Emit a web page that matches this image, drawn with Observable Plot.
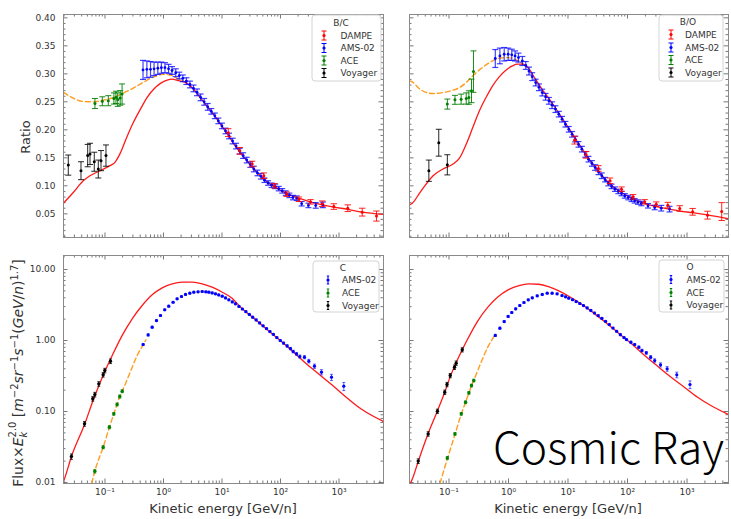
<!DOCTYPE html>
<html><head><meta charset="utf-8">
<script src="https://cdn.jsdelivr.net/npm/d3@7"></script>
<script src="https://cdn.jsdelivr.net/npm/@observablehq/plot@0.6"></script>
<style>
html,body{margin:0;padding:0;background:#fff;}
#root{position:relative;width:731px;height:519px;overflow:hidden;background:#fff;font-family:"DejaVu Sans",sans-serif;}
.pnl{position:absolute;}
.pnl svg{display:block;}
#overlay{position:absolute;left:0;top:0;}
#fluxlab{position:absolute;left:18.5px;top:373px;transform:translate(-50%,-50%) rotate(-90deg);white-space:nowrap;font-size:13.9px;color:#333;line-height:1;}
#fluxlab .ss{display:inline-block;vertical-align:middle;font-size:0.72em;line-height:1.05;text-align:left;}
#fluxlab .ss span{display:block;}
#fluxlab sup{font-size:0.72em;vertical-align:0.55em;line-height:0;}
</style></head>
<body><div id="root"></div>
<script>
// ================= DATA =================
// tick values / labels
const xTickValues = [0.1, 1, 10, 100, 1000];
const xTickLabels = ["10⁻¹", "10⁰", "10¹", "10²", "10³"];
const ratioTickValues = [0.05, 0.10, 0.15, 0.20, 0.25, 0.30, 0.35, 0.40];
const ratioTickLabels = ["0.05", "0.10", "0.15", "0.20", "0.25", "0.30", "0.35", "0.40"];
const fluxTickValues = [0.01, 0.1, 1, 10];
const fluxTickLabels = ["0.01", "0.10", "1.00", "10.00"];
const ratioLegendNames = ["DAMPE", "AMS-02", "ACE", "Voyager"];
const fluxLegendNames = ["AMS-02", "ACE", "Voyager"];

// B/C  [E (GeV/n), value, error]
const bcVoyager = [[0.0236,0.137,0.018],[0.0389,0.127,0.016],[0.0506,0.154,0.020],[0.0555,0.157,0.019],[0.0656,0.143,0.017],[0.0769,0.130,0.016],[0.0855,0.145,0.018],[0.104,0.154,0.019]];
const bcACE = [[0.0674,0.247,0.009],[0.090,0.251,0.008],[0.114,0.252,0.009],[0.142,0.256,0.010],[0.154,0.258,0.011],[0.165,0.254,0.012],[0.182,0.257,0.013],[0.196,0.264,0.018]];
const bcAMS = [[0.447,0.307,0.017],[0.52,0.308,0.015],[0.60,0.308,0.014],[0.69,0.309,0.012],[0.80,0.310,0.011],[0.92,0.311,0.010],[1.06,0.311,0.009],[1.22,0.309,0.008],[1.40,0.306,0.007],[1.62,0.302,0.007],[1.86,0.297,0.006],[2.14,0.292,0.006],[2.46,0.287,0.006],[2.83,0.281,0.006],[3.26,0.274,0.006],[3.75,0.267,0.006],[4.31,0.258,0.006],[4.96,0.250,0.006],[5.7,0.241,0.006],[6.56,0.233,0.005],[7.54,0.225,0.005],[8.67,0.216,0.005],[9.97,0.207,0.005],[11.5,0.198,0.005],[13.2,0.189,0.005],[15.2,0.180,0.005],[17.4,0.171,0.005],[20,0.162,0.005],[23,0.154,0.005],[26.5,0.146,0.005],[30.5,0.138,0.005],[35,0.130,0.005],[40.3,0.123,0.005],[46.3,0.117,0.005],[53.3,0.110,0.004],[61.3,0.105,0.004],[70.5,0.101,0.004],[81,0.099,0.004],[93.2,0.095,0.004],[107,0.091,0.004],[123,0.087,0.004],[142,0.083,0.004],[163,0.079,0.004],[190,0.078,0.004],[230,0.068,0.004],[300,0.065,0.004],[400,0.065,0.005],[530,0.066,0.005]];
const bcDAMPE = [[12.8,0.195,0.007],[20.2,0.1625,0.006],[32.8,0.139,0.005],[51.9,0.118,0.005],[78.9,0.100,0.004],[127,0.085,0.004],[206,0.076,0.004],[326,0.0714,0.004],[516,0.068,0.005],[815,0.063,0.005],[1413,0.060,0.006],[2494,0.053,0.007],[4375,0.046,0.009]];
const bcModel = [[0.0195,0.069],[0.0287,0.088],[0.0425,0.109],[0.0554,0.118],[0.082,0.127],[0.122,0.136],[0.148,0.142],[0.18,0.157],[0.234,0.186],[0.305,0.213],[0.404,0.237],[0.526,0.258],[0.684,0.273],[0.889,0.283],[1.156,0.289],[1.41,0.2905],[1.71,0.2885],[2.54,0.283],[3.3,0.272],[4.29,0.257],[5.57,0.242],[7.24,0.227],[9.42,0.21],[12.3,0.193],[15.9,0.175],[20.7,0.159],[26.9,0.144],[35,0.13],[45.5,0.118],[59,0.107],[77,0.099],[100,0.092],[130,0.086],[169,0.081],[220,0.077],[330,0.071],[520,0.066],[820,0.062],[1400,0.058],[2500,0.053],[5760,0.049]];
const bcModulated = [[0.0195,0.2668],[0.0287,0.2566],[0.0425,0.2506],[0.062,0.25],[0.0925,0.253],[0.139,0.2577],[0.206,0.2655],[0.305,0.2745],[0.447,0.2845],[0.684,0.2946],[1.0,0.2994],[1.3,0.298],[1.71,0.292],[2.2,0.2875]];

// B/O
const boVoyager = [[0.0459,0.127,0.019],[0.0673,0.177,0.024],[0.0938,0.1375,0.018]];
const boACE = [[0.0938,0.246,0.009],[0.126,0.2536,0.008],[0.160,0.2548,0.009],[0.195,0.256,0.010],[0.216,0.2577,0.012],[0.239,0.2696,0.021],[0.258,0.304,0.037]];
const boAMS = [[0.6,0.3274,0.016],[0.717,0.332,0.014],[0.847,0.335,0.012],[0.987,0.335,0.011],[1.135,0.334,0.010],[1.29,0.332,0.009],[1.47,0.329,0.008],[1.71,0.323,0.008],[1.95,0.315,0.007],[2.21,0.305,0.007],[2.5,0.295,0.007],[2.86,0.2845,0.006],[3.25,0.276,0.006],[3.69,0.2666,0.006],[4.2,0.259,0.006],[4.77,0.2518,0.006],[5.4,0.244,0.006],[6.15,0.237,0.006],[7,0.228,0.005],[7.94,0.219,0.005],[9.05,0.210,0.005],[10.3,0.201,0.005],[11.7,0.192,0.005],[13.2,0.1834,0.005],[15,0.174,0.005],[17.1,0.1655,0.005],[19.5,0.156,0.005],[22.1,0.1476,0.005],[25.2,0.14,0.005],[28.6,0.1327,0.005],[32.5,0.125,0.005],[36.9,0.118,0.005],[42,0.111,0.004],[47.6,0.104,0.004],[54,0.099,0.004],[61.5,0.094,0.004],[70,0.09,0.004],[79.4,0.0863,0.004],[90,0.082,0.004],[103,0.079,0.004],[117,0.076,0.004],[132,0.0732,0.004],[150,0.071,0.004],[171,0.0684,0.004],[221,0.0643,0.004],[286,0.0613,0.004],[369,0.060,0.005],[508,0.0584,0.005]];
const boDAMPE = [[12.9,0.1816,0.007],[20.2,0.1554,0.006],[32.5,0.131,0.005],[50.8,0.109,0.005],[79.4,0.094,0.004],[124,0.0804,0.004],[194,0.0714,0.004],[304,0.0673,0.004],[476,0.0655,0.005],[755,0.0595,0.005],[1243,0.0536,0.006],[2210,0.0476,0.007],[3830,0.054,0.016]];
const boModel = [[0.0217,0.066],[0.0242,0.069],[0.0325,0.088],[0.0419,0.104],[0.054,0.118],[0.079,0.130],[0.117,0.1388],[0.151,0.150],[0.195,0.1745],[0.251,0.204],[0.325,0.234],[0.419,0.2577],[0.541,0.2786],[0.699,0.2946],[0.903,0.3066],[1.166,0.3143],[1.41,0.3173],[1.71,0.3173],[2.07,0.3125],[2.86,0.29],[3.69,0.272],[4.77,0.256],[6.15,0.239],[7.94,0.221],[10.3,0.203],[13.2,0.185],[17.1,0.167],[22.1,0.149],[28.6,0.134],[36.9,0.119],[47.6,0.106],[61.5,0.096],[79.4,0.088],[103,0.081],[132,0.075],[171,0.0705],[221,0.0665],[300,0.063],[500,0.0585],[760,0.055],[1240,0.052],[2200,0.048],[4980,0.041]];
const boModulated = [[0.0217,0.288],[0.0242,0.2857],[0.0325,0.2727],[0.0419,0.2666],[0.054,0.2648],[0.079,0.2666],[0.117,0.2708],[0.151,0.2756],[0.195,0.2845],[0.251,0.2964],[0.325,0.3071],[0.419,0.316],[0.541,0.3232],[0.699,0.328],[0.96,0.329],[1.27,0.326],[1.8,0.3173]];

// C flux x E^2.0
const cVoyager = [[0.0267,0.0232,0.002],[0.0447,0.0671,0.005],[0.0618,0.151,0.011],[0.067,0.173,0.013],[0.0784,0.245,0.018],[0.0931,0.329,0.024],[0.0993,0.378,0.028],[0.124,0.511,0.038]];
const cACE = [[0.067,0.0144,0.0008],[0.0931,0.0314,0.0015],[0.119,0.0601,0.003],[0.1415,0.0927,0.004],[0.161,0.1256,0.006],[0.179,0.1626,0.008],[0.197,0.193,0.009]];
const cAMS = [[0.449,0.879,0.03],[0.547,1.20,0.04],[0.641,1.54,0.05],[0.759,1.91,0.06],[0.889,2.25,0.07],[1.05,2.71,0.08],[1.23,3.04,0.09],[1.46,3.46,0.1],[1.71,3.87,0.1],[2.03,4.17,0.11],[2.38,4.45,0.12],[2.82,4.64,0.12],[3.3,4.8,0.12],[3.9,4.85,0.12],[4.59,4.9,0.12],[5.3,4.85,0.12],[5.96,4.8,0.12],[6.8,4.68,0.12],[7.74,4.54,0.11],[8.8,4.38,0.11],[10.1,4.21,0.11],[11.5,3.98,0.1],[13.1,3.74,0.1],[15,3.5,0.09],[17,3.29,0.09],[19.5,3.02,0.08],[22.3,2.78,0.07],[25.6,2.55,0.07],[29.3,2.33,0.06],[33.5,2.13,0.06],[38.4,1.95,0.05],[44,1.77,0.05],[50.4,1.61,0.04],[57.7,1.47,0.04],[66,1.34,0.04],[75.6,1.22,0.03],[86.6,1.1,0.03],[99.2,1.0,0.03],[113,0.92,0.03],[130,0.84,0.03],[148,0.77,0.03],[165,0.70,0.03],[188,0.649,0.03],[214,0.595,0.03],[257,0.582,0.03],[305,0.512,0.03],[381,0.435,0.03],[502,0.358,0.03],[745,0.304,0.03],[1208,0.227,0.03]];
const cModel = [[0.0195,0.0104],[0.0203,0.0113],[0.0267,0.0232],[0.0447,0.0655],[0.0644,0.152],[0.0955,0.34],[0.133,0.615],[0.197,1.18],[0.292,2.02],[0.432,3.11],[0.641,4.40],[0.95,5.52],[1.41,6.29],[2.09,6.63],[3.1,6.63],[4.59,6.29],[6.8,5.63],[10.1,4.79],[14.9,3.95],[20.7,2.95],[35,2.05],[59,1.43],[100,0.99],[169,0.68],[286,0.46],[483,0.322],[817,0.225],[1380,0.155],[2330,0.11],[5760,0.0723]];
const cModulated = [[0.0594,0.0097],[0.067,0.0144],[0.0931,0.0314],[0.119,0.0601],[0.1415,0.0927],[0.161,0.1256],[0.179,0.1626],[0.197,0.193],[0.27,0.359],[0.355,0.615],[0.45,0.87],[0.5,1.02]];

// O flux x E^2.0
const oVoyager = [[0.0304,0.020,0.0015],[0.0447,0.0484,0.0035],[0.0639,0.101,0.007],[0.0848,0.187,0.013],[0.0926,0.24,0.017],[0.105,0.321,0.022],[0.124,0.421,0.03],[0.132,0.48,0.034],[0.167,0.74,0.05]];
const oACE = [[0.0938,0.0222,0.001],[0.126,0.0484,0.002],[0.161,0.0927,0.004],[0.19,0.135,0.006],[0.216,0.183,0.008],[0.239,0.232,0.01],[0.261,0.273,0.012]];
const oAMS = [[0.6,1.18,0.04],[0.717,1.49,0.05],[0.847,1.85,0.06],[0.987,2.18,0.07],[1.135,2.48,0.08],[1.32,2.79,0.08],[1.55,3.11,0.09],[1.82,3.43,0.1],[2.15,3.74,0.1],[2.51,3.99,0.11],[3.04,4.26,0.12],[3.69,4.45,0.12],[4.47,4.64,0.12],[5.41,4.64,0.12],[6.56,4.54,0.12],[7.94,4.3,0.11],[9.1,4.12,0.11],[10.3,3.95,0.1],[11.9,3.75,0.1],[13.7,3.54,0.09],[15.8,3.32,0.09],[18.2,3.1,0.08],[21,2.88,0.08],[24.2,2.65,0.07],[27.9,2.44,0.07],[32.2,2.24,0.06],[37.1,2.05,0.06],[42.8,1.86,0.05],[49.4,1.68,0.05],[57,1.5,0.04],[65.7,1.35,0.04],[75.8,1.21,0.04],[87.4,1.1,0.03],[96.2,1.03,0.03],[114,0.948,0.03],[132,0.879,0.03],[155,0.805,0.03],[175,0.723,0.03],[207,0.67,0.03],[245,0.582,0.03],[286,0.523,0.03],[359,0.454,0.03],[464,0.399,0.03],[673,0.328,0.03],[1122,0.24,0.03]];
const oModel = [[0.0217,0.0093],[0.0242,0.0112],[0.0304,0.0198],[0.0447,0.049],[0.0639,0.102],[0.0848,0.187],[0.105,0.31],[0.132,0.49],[0.167,0.74],[0.2,1.0],[0.3,1.85],[0.45,2.95],[0.66,4.1],[1.0,5.2],[1.5,5.95],[2.2,6.28],[3.2,6.2],[4.7,5.75],[7.0,5.0],[10.3,4.2],[15.1,3.45],[25.1,2.55],[41.9,1.82],[69.9,1.28],[117,0.9],[194,0.615],[324,0.431],[541,0.304],[903,0.22],[1507,0.159],[2512,0.1216],[4980,0.0908]];
const oModulated = [[0.0705,0.0097],[0.0938,0.0215],[0.126,0.0475],[0.161,0.092],[0.19,0.135],[0.216,0.182],[0.239,0.232],[0.261,0.275],[0.324,0.43],[0.447,0.8],[0.577,1.15]];

// ================= DRAWING =================
const COL = {dampe: "#ff0000", ams: "#0000ff", ace: "#008000", voy: "#000000", model: "#ff1a1a", mod: "#ff9d1f"};
const root = document.getElementById("root");
const capSymbol = {draw(ctx, size) { const r = Math.sqrt(size / Math.PI); ctx.moveTo(-r, 0); ctx.lineTo(r, 0); }};

function logTicks([a, b]) {
  const major = [], minor = [];
  for (let e = Math.floor(Math.log10(a)); e <= Math.ceil(Math.log10(b)); e++) {
    for (let k = 1; k < 10; k++) {
      const v = +(k * Math.pow(10, e)).toPrecision(6);
      if (v < a || v > b) continue;
      (k === 1 ? major : minor).push(v);
    }
  }
  return {major, minor};
}
function linTicks([a, b], step) {
  const out = [];
  for (let i = Math.ceil(a / step - 1e-9); i * step <= b + 1e-9; i++) out.push(+(i * step).toFixed(4));
  return out;
}

function errorbars(data, color, o = {}) {
  const {cap = 2.5, r = 1.6, sw = 1, op = 1} = o;
  const X = d => d[0], LO = d => d[1] - d[2], HI = d => d[1] + d[2];
  return [
    Plot.link(data, {x1: X, x2: X, y1: LO, y2: HI, stroke: color, strokeWidth: sw, strokeOpacity: op}),
    Plot.dot(data, {x: X, y: LO, r: cap, symbol: capSymbol, stroke: color, fill: "none", strokeWidth: sw, strokeOpacity: op}),
    Plot.dot(data, {x: X, y: HI, r: cap, symbol: capSymbol, stroke: color, fill: "none", strokeWidth: sw, strokeOpacity: op}),
    Plot.dot(data, {x: X, y: d => d[1], r, fill: color, stroke: "none"})
  ];
}

function panel(cfg) {
  const {left, top, width, height, m, xDomain, yType, yDomain, yMajor, yMinor, yLab, xLab, layers} = cfg;
  const pw = width - m[1] - m[3], ph = height - m[0] - m[2];
  const xt = logTicks(xDomain);
  const tc = "#555", MAJ = 4.5, MIN = 2.5, tw = 0.8;
  const marks = [
    Plot.ruleX(xt.major, {x: d => d, insetTop: ph - MAJ, stroke: tc, strokeWidth: tw}),
    Plot.ruleX(xt.major, {x: d => d, insetBottom: ph - MAJ, stroke: tc, strokeWidth: tw}),
    Plot.ruleX(xt.minor, {x: d => d, insetTop: ph - MIN, stroke: tc, strokeWidth: tw}),
    Plot.ruleX(xt.minor, {x: d => d, insetBottom: ph - MIN, stroke: tc, strokeWidth: tw}),
    Plot.ruleY(yMajor, {y: d => d, insetRight: pw - MAJ, stroke: tc, strokeWidth: tw}),
    Plot.ruleY(yMajor, {y: d => d, insetLeft: pw - MAJ, stroke: tc, strokeWidth: tw}),
    Plot.ruleY(yMinor, {y: d => d, insetRight: pw - MIN, stroke: tc, strokeWidth: tw}),
    Plot.ruleY(yMinor, {y: d => d, insetLeft: pw - MIN, stroke: tc, strokeWidth: tw}),
    ...layers,
    Plot.frame({stroke: "#8a8a8a", strokeWidth: 1})
  ];
  if (yLab) marks.push(Plot.axisY(yLab.v, {tickSize: 0, tickPadding: 8, tickFormat: d => yLab.t[yLab.v.indexOf(d)], label: null, fill: "#333"}));
  if (xLab) marks.push(Plot.axisX(xTickValues, {tickSize: 0, tickPadding: 5.5, tickFormat: d => xTickLabels[xTickValues.indexOf(d)], label: null, fill: "#333"}));
  const svg = Plot.plot({
    width, height, marginTop: m[0], marginRight: m[1], marginBottom: m[2], marginLeft: m[3],
    style: {fontFamily: "DejaVu Sans, sans-serif", fontSize: "9px", color: "#333", background: "transparent", overflow: "visible"},
    x: {type: "log", domain: xDomain, axis: null},
    y: {type: yType, domain: yDomain, axis: null},
    marks
  });
  const div = document.createElement("div");
  div.className = "pnl";
  div.style.left = left + "px"; div.style.top = top + "px";
  div.appendChild(svg);
  root.appendChild(div);
}

const xDomL = [0.01954, 5765], xDomR = [0.0217, 4980];
const ratioDom = [0.0077, 0.406], fluxDom = [0.00968, 15.75];
const rMaj = ratioTickValues, rMin = linTicks(ratioDom, 0.01).filter(v => !rMaj.some(t => Math.abs(t - v) < 1e-6));
const fT = logTicks(fluxDom);

function ratioLayers(model, modulated, voy, ace, ams, dampe) {
  return [
    Plot.line(modulated, {x: d => d[0], y: d => d[1], stroke: COL.mod, strokeWidth: 1.4, strokeDasharray: "5,3", curve: "monotone-x", clip: true}),
    Plot.line(model, {x: d => d[0], y: d => d[1], stroke: COL.model, strokeWidth: 1.3, curve: "monotone-x", clip: true}),
    ...errorbars(voy, COL.voy, {cap: 3, r: 1.5, op: 0.85}),
    ...errorbars(ace, COL.ace, {cap: 3, r: 1.5, op: 0.9}),
    ...errorbars(ams, COL.ams, {cap: 3, r: 1.4, op: 0.75, sw: 1.2}),
    ...errorbars(dampe, COL.dampe, {cap: 3.2, r: 1.5, op: 0.85})
  ];
}
function fluxLayers(model, modulated, voy, ace, ams) {
  return [
    Plot.line(model, {x: d => d[0], y: d => d[1], stroke: COL.model, strokeWidth: 1.3, curve: "monotone-x", clip: true}),
    Plot.line(modulated, {x: d => d[0], y: d => d[1], stroke: COL.mod, strokeWidth: 1.4, strokeDasharray: "5,3", curve: "monotone-x", clip: true}),
    ...errorbars(voy, COL.voy, {cap: 1.5, r: 1.7, op: 0.8}),
    ...errorbars(ace, COL.ace, {cap: 1.5, r: 1.7, op: 0.8}),
    ...errorbars(ams, COL.ams, {cap: 1.5, r: 1.6, op: 0.6})
  ];
}

panel({left: 0, top: 0, width: 390, height: 246, m: [14, 7, 9, 63], xDomain: xDomL, yType: "linear", yDomain: ratioDom,
  yMajor: rMaj, yMinor: rMin, yLab: {v: ratioTickValues, t: ratioTickLabels}, xLab: false,
  layers: ratioLayers(bcModel, bcModulated, bcVoyager, bcACE, bcAMS, bcDAMPE)});
panel({left: 390, top: 0, width: 341, height: 246, m: [14, 3, 9, 19], xDomain: xDomR, yType: "linear", yDomain: ratioDom,
  yMajor: rMaj, yMinor: rMin, yLab: null, xLab: false,
  layers: ratioLayers(boModel, boModulated, boVoyager, boACE, boAMS, boDAMPE)});
panel({left: 0, top: 246, width: 390, height: 273, m: [9, 7, 36, 63], xDomain: xDomL, yType: "log", yDomain: fluxDom,
  yMajor: fT.major, yMinor: fT.minor, yLab: {v: fluxTickValues, t: fluxTickLabels}, xLab: true,
  layers: fluxLayers(cModel, cModulated, cVoyager, cACE, cAMS)});
panel({left: 390, top: 246, width: 341, height: 273, m: [9, 3, 36, 19], xDomain: xDomR, yType: "log", yDomain: fluxDom,
  yMajor: fT.major, yMinor: fT.minor, yLab: null, xLab: true,
  layers: fluxLayers(oModel, oModulated, oVoyager, oACE, oAMS)});

// ---------- overlay: labels, legends, caption ----------
const ov = d3.select(root).append("svg").attr("id", "overlay").attr("width", 731).attr("height", 519)
  .style("font-family", "DejaVu Sans, sans-serif");
ov.append("text").attr("transform", "translate(30,137) rotate(-90)").attr("text-anchor", "middle")
  .attr("font-size", 13).attr("fill", "#333").text("Ratio");
[223, 568].forEach(cx => ov.append("text").attr("x", cx).attr("y", 513).attr("text-anchor", "middle")
  .attr("font-size", 13).attr("fill", "#333").text("Kinetic energy [GeV/n]"));

function legend(o) {
  const g = ov.append("g");
  g.append("rect").attr("x", o.box[0]).attr("y", o.box[1]).attr("width", o.box[2]).attr("height", o.box[3])
    .attr("rx", 3).attr("fill", "rgba(255,255,255,0.85)").attr("stroke", "#d4d4d4").attr("stroke-width", 1);
  g.append("text").attr("x", o.titleX).attr("y", o.titleY).attr("text-anchor", "middle").attr("dominant-baseline", "central")
    .attr("font-size", 9).attr("fill", "#333").text(o.title);
  o.names.forEach((nm, i) => {
    const cy = o.rows[i], c = o.colors[i], x = o.mx;
    g.append("line").attr("x1", x).attr("x2", x).attr("y1", cy - o.h).attr("y2", cy + o.h).attr("stroke", c).attr("stroke-width", 1);
    g.append("line").attr("x1", x - o.cap).attr("x2", x + o.cap).attr("y1", cy - o.h).attr("y2", cy - o.h).attr("stroke", c).attr("stroke-width", 1);
    g.append("line").attr("x1", x - o.cap).attr("x2", x + o.cap).attr("y1", cy + o.h).attr("y2", cy + o.h).attr("stroke", c).attr("stroke-width", 1);
    g.append("circle").attr("cx", x).attr("cy", cy).attr("r", 1.6).attr("fill", c);
    g.append("text").attr("x", o.tx).attr("y", cy).attr("dominant-baseline", "central").attr("font-size", 9).attr("fill", "#333").text(nm);
  });
}
const ratioColors = [COL.dampe, COL.ams, COL.ace, COL.voy], fluxColors = [COL.ams, COL.ace, COL.voy];
legend({box: [312, 15, 69, 66], title: "B/C", titleX: 341, titleY: 23, mx: 324, tx: 340.5, rows: [35.5, 48, 60.5, 73], names: ratioLegendNames, colors: ratioColors, cap: 2.5, h: 4.5});
legend({box: [659, 15, 64, 66], title: "B/O", titleX: 688, titleY: 22, mx: 671, tx: 685, rows: [34.5, 47.5, 60, 72.5], names: ratioLegendNames, colors: ratioColors, cap: 2.5, h: 4.5});
legend({box: [313, 261, 66, 51], title: "C", titleX: 343, titleY: 267.5, mx: 328, tx: 342, rows: [280, 293, 305.5], names: fluxLegendNames, colors: fluxColors, cap: 1.2, h: 4});
legend({box: [659, 260, 65, 52], title: "O", titleX: 690, titleY: 266.5, mx: 671, tx: 686.5, rows: [279.5, 292.5, 305], names: fluxLegendNames, colors: fluxColors, cap: 1.2, h: 4});

ov.append("text").attr("x", 493).attr("y", 464).attr("font-size", 44).attr("font-weight", 300)
  .attr("textLength", 231).attr("lengthAdjust", "spacingAndGlyphs")
  .attr("font-family", "Noto Sans CJK SC, Noto Sans, sans-serif").attr("fill", "#000").text("Cosmic Ray");

// flux label (HTML for stacked sub/superscript)
const fl = document.createElement("div");
fl.id = "fluxlab";
fl.innerHTML = 'Flux×<i>E</i><span class="ss"><span>2.0</span><span><i>k</i></span></span> [<i>m</i><sup>−2</sup><i>sr</i><sup>−1</sup><i>s</i><sup>−1</sup>(<i>GeV</i>/<i>n</i>)<sup>1.7</sup>]';
root.appendChild(fl);
</script>
</body></html>
